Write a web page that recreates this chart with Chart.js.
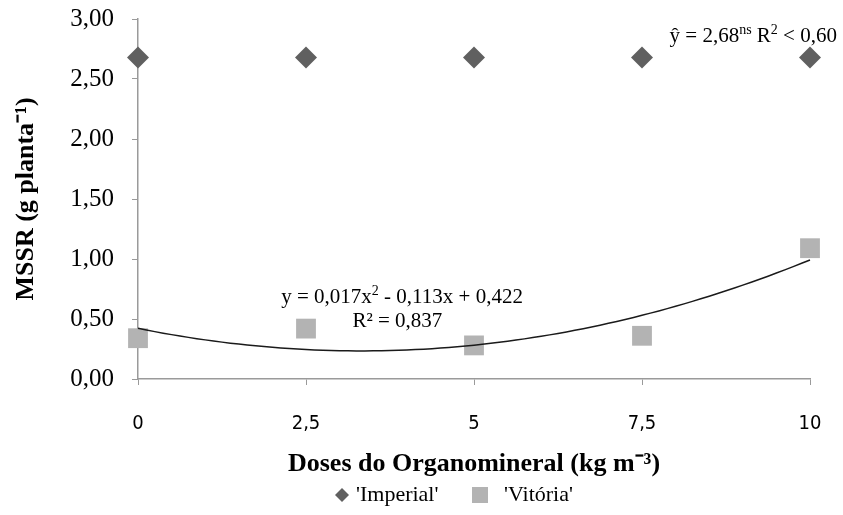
<!DOCTYPE html>
<html>
<head>
<meta charset="utf-8">
<script src="https://cdn.jsdelivr.net/npm/chart.js@4"></script>
<style>
  html, body { margin: 0; padding: 0; background: #fff; }
  canvas { display: block; }
</style>
</head>
<body>
<canvas id="chart" width="843" height="515"></canvas>
<script>
// doses (kg m-3)
const doses = [0, 2.5, 5, 7.5, 10];
const doseLabels = ['0', '2,5', '5', '7,5', '10'];
const imperial = [2.68, 2.68, 2.68, 2.68, 2.68];
const vitoria = [0.34, 0.42, 0.28, 0.36, 1.09];
// fitted quadratic for 'Vitória' (c, b, a): y = a x^2 + b x + c
const vitoriaFit = [0.422, -0.113, 0.017];
const yTicks = [0, 0.5, 1, 1.5, 2, 2.5, 3];

const AXIS_GREY = '#9a9a9a';
const SERIF = "'Liberation Serif', 'Times New Roman', serif";

const fitPoints = [];
for (let x = 0; x <= 10.0001; x += 0.25) {
    fitPoints.push({ x, y: vitoriaFit[0] + vitoriaFit[1] * x + vitoriaFit[2] * x * x });
}

const toPts = (vals) => vals.map((v, i) => ({ x: doses[i], y: v }));

// text with superscripts: parts = [[text, isSup], ...]
function drawRich(ctx, parts, x, y, size, align) {
    const sup = Math.round(size * 0.65);
    const widths = parts.map(([t, s]) => {
        ctx.font = `${s ? sup : size}px ${SERIF}`;
        return ctx.measureText(t).width;
    });
    const total = widths.reduce((a, b) => a + b, 0);
    let cx = align === 'center' ? x - total / 2 : x;
    ctx.textBaseline = 'alphabetic';
    ctx.textAlign = 'left';
    parts.forEach(([t, s], i) => {
        ctx.font = `${s ? sup : size}px ${SERIF}`;
        ctx.fillText(t, cx, s ? y - size * 0.38 : y);
        cx += widths[i];
    });
}

const annotations = {
    id: 'annotations',
    afterDraw(chart) {
        const { ctx, scales: { x, y } } = chart;
        ctx.save();
        ctx.fillStyle = '#000';
        drawRich(ctx, [['ŷ = 2,68', false], ['ns', true], [' R', false], ['2', true], [' < 0,60', false]],
            x.getPixelForValue(7.91), y.getPixelForValue(2.81), 21, 'left');
        drawRich(ctx, [['y = 0,017x', false], ['2', true], [' - 0,113x + 0,422', false]],
            x.getPixelForValue(3.93), y.getPixelForValue(0.63), 21, 'center');
        drawRich(ctx, [['R² = 0,837', false]],
            x.getPixelForValue(3.86), y.getPixelForValue(0.43), 21, 'center');
        ctx.restore();
    }
};

const legendBox = {
    id: 'legendBox',
    afterDraw(chart) {
        const { ctx } = chart;
        const items = [
            { ds: chart.data.datasets[1], mx: 342, tx: 356 },
            { ds: chart.data.datasets[2], mx: 480, tx: 504 },
        ];
        ctx.save();
        const ly = 495;
        items.forEach(({ ds, mx, tx }) => {
            ctx.fillStyle = ds.backgroundColor;
            ctx.beginPath();
            if (ds.pointStyle === 'rectRot') {
                ctx.moveTo(mx, ly - 7); ctx.lineTo(mx + 7, ly); ctx.lineTo(mx, ly + 7); ctx.lineTo(mx - 7, ly);
            } else {
                ctx.rect(mx - 8, ly - 8, 16, 16);
            }
            ctx.closePath();
            ctx.fill();
            ctx.fillStyle = '#000';
            ctx.font = `22px ${SERIF}`;
            ctx.textBaseline = 'middle';
            ctx.textAlign = 'left';
            ctx.fillText(ds.label, tx, ly);
        });
        ctx.restore();
    }
};

new Chart(document.getElementById('chart'), {
    type: 'scatter',
    data: {
        datasets: [
            {
                label: 'fit',
                type: 'line',
                data: fitPoints,
                borderColor: '#1a1a1a',
                borderWidth: 1.5,
                pointRadius: 0,
                tension: 0.3,
                fill: false,
                clip: false,
            },
            {
                label: "'Imperial'",
                data: toPts(imperial),
                pointStyle: 'rectRot',
                pointRadius: 11,
                backgroundColor: '#606060',
                borderColor: '#606060',
                borderWidth: 0,
                clip: false,
            },
            {
                label: "'Vitória'",
                data: toPts(vitoria),
                pointStyle: 'rect',
                pointRadius: 14,
                backgroundColor: '#b3b3b3',
                borderColor: '#b3b3b3',
                borderWidth: 0,
                clip: false,
            },
        ],
    },
    options: {
        responsive: false,
        animation: false,
        layout: { padding: { top: 19, right: 33, left: 0, bottom: 0 } },
        plugins: {
            legend: { display: false },
            tooltip: { enabled: false },
        },
        scales: {
            x: {
                type: 'linear',
                min: 0,
                max: 10,
                afterBuildTicks: (scale) => { scale.ticks = doses.map(v => ({ value: v })); },
                afterFit: (scale) => {
                    scale.height = 136;
                    scale.paddingLeft = 0;
                    scale.paddingRight = 0;
                },
                grid: { drawOnChartArea: false, color: AXIS_GREY, tickLength: 6 },
                border: { color: AXIS_GREY, width: 1.5 },
                ticks: {
                    color: '#000',
                    padding: 27,
                    maxRotation: 0,
                    font: { family: "'Liberation Sans Narrow', 'DejaVu Sans Condensed', sans-serif", size: 20 },
                    callback: (v) => doseLabels[doses.indexOf(v)],
                },
                title: {
                    display: true,
                    text: 'Doses do Organomineral (kg m⁻³)',
                    color: '#000',
                    font: { family: SERIF, size: 26, weight: 'bold' },
                    padding: { top: 0, bottom: 35 },
                },
            },
            y: {
                min: 0,
                max: 3,
                afterBuildTicks: (scale) => { scale.ticks = yTicks.map(v => ({ value: v })); },
                afterFit: (scale) => {
                    scale.width = 138;
                    scale.paddingTop = 0;
                    scale.paddingBottom = 0;
                },
                grid: { drawOnChartArea: false, color: AXIS_GREY, tickLength: 6 },
                border: { color: AXIS_GREY, width: 1.5 },
                ticks: {
                    color: '#000',
                    padding: 18,
                    font: { family: SERIF, size: 25 },
                    callback: (v) => v.toFixed(2).replace('.', ','),
                },
                title: {
                    display: true,
                    text: 'MSSR (g planta⁻¹)',
                    color: '#000',
                    font: { family: SERIF, size: 26, weight: 'bold' },
                    padding: { top: 11, bottom: 0 },
                },
            },
        },
    },
    plugins: [annotations, legendBox],
});
</script>
</body>
</html>
